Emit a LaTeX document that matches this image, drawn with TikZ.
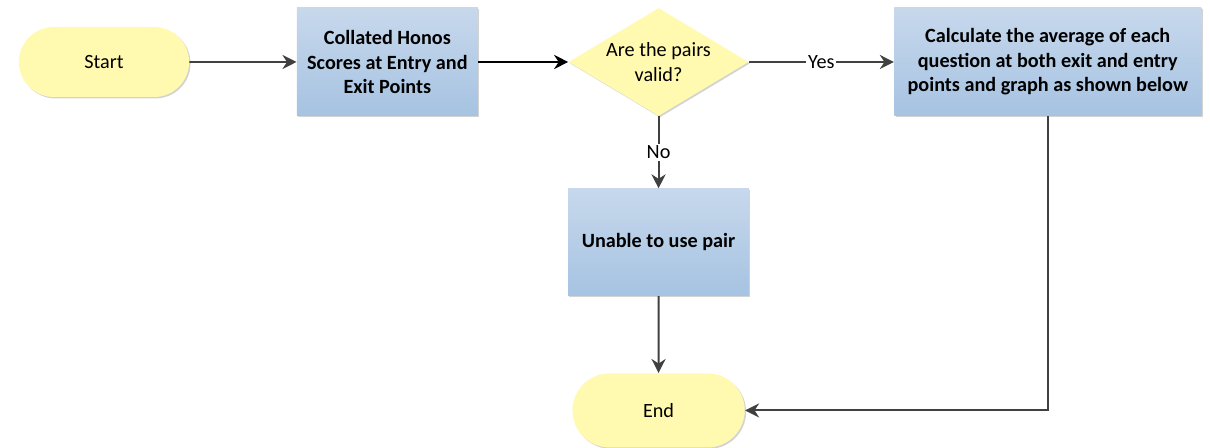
\documentclass[tikz,border=0pt]{standalone}
\usepackage{fontspec}
\setmainfont{Carlito}
\usetikzlibrary{positioning, shapes.geometric, shapes.misc, arrows.meta, shadows}
\definecolor{termyellow}{RGB}{255,250,176}
\definecolor{boxtop}{RGB}{199,216,236}
\definecolor{boxbottom}{RGB}{166,195,226}
\definecolor{linegray}{RGB}{64,64,64}
\tikzset{
% flowchart shapes
terminal/.style={rounded rectangle, fill=termyellow, minimum width=3.64cm, minimum height=1.4cm,
  font=\fontsize{11.5}{14}\selectfont,
  drop shadow={shadow xshift=0.8pt, shadow yshift=-0.8pt, opacity=0.35, fill=gray}},
process/.style={rectangle, top color=boxtop, bottom color=boxbottom, minimum width=3.62cm, minimum height=2.16cm,
  align=center, font=\bfseries\fontsize{11.5}{14}\selectfont,
  drop shadow={shadow xshift=0.8pt, shadow yshift=-0.8pt, opacity=0.35, fill=gray}},
decision/.style={diamond, fill=termyellow, minimum width=3.6cm, minimum height=2.16cm, aspect=1.67,
  inner sep=0pt, align=center, font=\fontsize{11.5}{14}\selectfont,
  drop shadow={shadow xshift=0.8pt, shadow yshift=-0.8pt, opacity=0.35, fill=gray}},
flowlabel/.style={fill=white, inner sep=1pt, font=\fontsize{11.5}{14}\selectfont},
% >=latex,
}

\begin{document}
\begin{tikzpicture}[>={Stealth[length=8pt, width=8pt]}]
\useasboundingbox (0,0) rectangle (24.2,-8.96);
% Nodes
\node (start) [terminal] at (2.08,-1.24) {Start};
\node (collate) [process, right=2.14cm of start] {Collated Honos\\ Scores at Entry and\\ Exit Points};
\node (valid) [decision, right=1.8cm of collate] {Are the pairs\\ valid?};
\node (calc) [process, right=2.9cm of valid, minimum width=6.14cm] {Calculate the average of each\\ question at both exit and entry\\ points and graph as shown below};
\node (unable) [process, below=1.44cm of valid, minimum height=2.14cm] {Unable to use pair};
\node (finish) [terminal, below=1.54cm of unable, minimum width=3.68cm, minimum height=1.48cm] {End};

% Connectors
\begin{scope}[->, draw=linegray, line width=1.1pt]

\draw (start) -- (collate);
\draw [draw=black, line width=1.4pt] (collate) -- (valid);
\draw (valid) -- node[flowlabel] {Yes} (calc);
\draw (valid) -- node[flowlabel] {No} (unable);
\draw (unable) -- (finish);
\draw (calc.south) |- (finish.east);

\end{scope}

\end{tikzpicture}
\end{document}
